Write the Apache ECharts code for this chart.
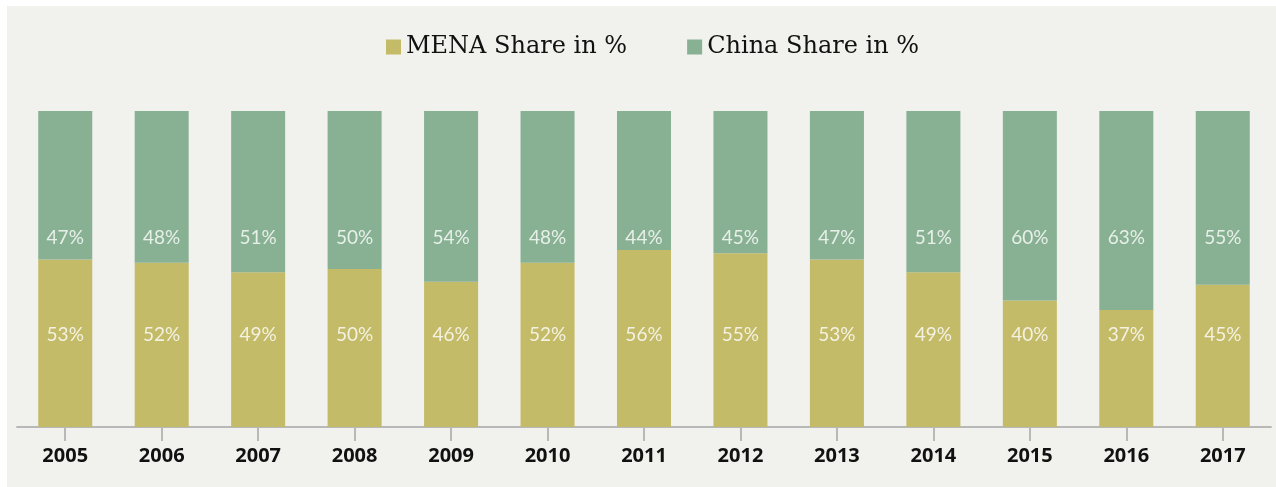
<!DOCTYPE html>
<html><head><meta charset="utf-8">
<script src="https://cdn.jsdelivr.net/npm/echarts@6/dist/echarts.min.js"></script>
<style>html,body{margin:0;padding:0;background:#fff}#c{width:1276px;height:487px}</style>
</head><body><div id="c"></div>
<script>
const years = ['2005','2006','2007','2008','2009','2010','2011','2012','2013','2014','2015','2016','2017'];
const menaShare = [53,52,49,50,46,52,56,55,53,49,40,37,45];
const chinaShare = [47,48,51,50,54,48,44,45,47,51,60,63,55];
const menaLabelLevel = 29;
const chinaLabelLevel = 59.8;

const chart = echarts.init(document.getElementById('c'));
const labelFont = {color:'#ffffff', fontFamily:'Lato, "Open Sans", sans-serif', fontSize:19};
chart.setOption({
  backgroundColor:'#ffffff',
  graphic:[{type:'rect', shape:{x:7,y:6,width:1269,height:481}, style:{fill:'#f1f1ed'}, z:-10, silent:true}],
  legend:{
    top:30, left:381, itemWidth:15, itemHeight:15, itemGap:60,
    icon:'rect',
    textStyle:{fontFamily:'"DejaVu Serif", "Liberation Serif", serif', fontSize:24, color:'#111'},
    data:['MENA Share in %','China Share in %']
  },
  grid:{left:17, right:5, top:111, bottom:60},
  xAxis:{
    type:'category', data:years,
    axisLine:{lineStyle:{color:'#b8b8b8', width:2}},
    axisTick:{show:true, alignWithLabel:true, length:14, lineStyle:{color:'#b8b8b8', width:2}},
    axisLabel:{fontFamily:'"Open Sans", sans-serif', fontWeight:'bold', fontSize:20, color:'#111', margin:19}
  },
  yAxis:{type:'value', min:0, max:100, show:false, splitLine:{show:false}},
  series:[
    {name:'MENA Share in %', type:'bar', stack:'s', data:menaShare, barWidth:'56%', itemStyle:{color:'#c4bb68'}},
    {name:'China Share in %', type:'bar', stack:'s', data:chinaShare, itemStyle:{color:'#88b193'}},
    {type:'scatter', symbolSize:0, silent:true, z:10,
     data:menaShare.map((v,i)=>({value:[i, menaLabelLevel], pct:v})),
     label:{show:true, position:'inside', formatter:p=>p.data.pct+'%', ...labelFont}},
    {type:'scatter', symbolSize:0, silent:true, z:10,
     data:chinaShare.map((v,i)=>({value:[i, chinaLabelLevel], pct:v})),
     label:{show:true, position:'inside', formatter:p=>p.data.pct+'%', ...labelFont}}
  ]
});
</script></body></html>
